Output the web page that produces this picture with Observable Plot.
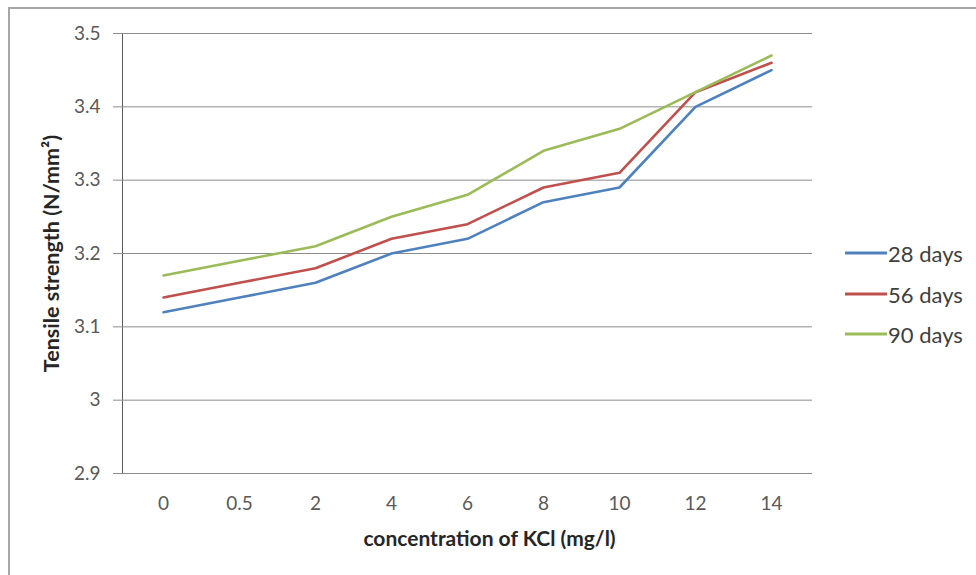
<!DOCTYPE html>
<html><head><meta charset="utf-8">
<script src="https://cdn.jsdelivr.net/npm/d3@7"></script>
<script src="https://cdn.jsdelivr.net/npm/@observablehq/plot@0.6"></script>
<style>
html,body{margin:0;padding:0;background:#fff;}
#wrap{position:relative;width:976px;height:575px;overflow:hidden;font-family:Lato,"Open Sans",sans-serif;background:#fff;}
#frame{position:absolute;left:8px;top:7px;width:1000px;height:600px;border-left:2px solid #a6a6a6;border-top:2px solid #a6a6a6;box-sizing:border-box;}
#chart{position:absolute;left:0;top:0;}
#chart svg g[aria-label="y-axis"] line,
#chart svg g[aria-label="y-axis"] path,
#chart svg g[aria-label="y-axis tick"],
#chart svg g[aria-label="y-axis line"]{stroke:#8c8c8c;}
#legend{position:absolute;left:845px;top:0;font-size:22px;color:#404040;}
.item{position:absolute;left:0;display:flex;align-items:center;white-space:nowrap;transform:translateY(-50%);}
.swatch{width:42px;height:3px;margin-right:1px;}
</style>
</head><body>
<div id="wrap"><div id="frame"></div><div id="chart"></div><div id="legend"></div></div>
<script>
const categories = ["0", "0.5", "2", "4", "6", "8", "10", "12", "14"];
const seriesNames = ["28 days", "56 days", "90 days"];
const days28 = [3.12, 3.14, 3.16, 3.20, 3.22, 3.27, 3.29, 3.40, 3.45];
const days56 = [3.14, 3.16, 3.18, 3.22, 3.24, 3.29, 3.31, 3.42, 3.46];
const days90 = [3.17, 3.19, 3.21, 3.25, 3.28, 3.34, 3.37, 3.42, 3.47];
const colors = ["#4F81BD", "#C0504D", "#9BBB59"];
const yTicks = [2.9, 3.0, 3.1, 3.2, 3.3, 3.4, 3.5];
const yTickLabels = ["2.9", "3", "3.1", "3.2", "3.3", "3.4", "3.5"];
const xTitle = "concentration of KCl (mg/l)";
const yTitle = "Tensile strength (N/mm²)";

const seriesValues = [days28, days56, days90];
const data = [];
seriesNames.forEach((s, si) => categories.forEach((c, ci) => data.push({series: s, cat: c, value: seriesValues[si][ci]})));

const chart = Plot.plot({
  width: 976,
  height: 575,
  marginLeft: 122,
  marginRight: 164,
  marginTop: 33,
  marginBottom: 102,
  style: {background: "transparent", color: "#595959", fontFamily: "Lato, 'Open Sans', sans-serif", fontSize: "19px", overflow: "visible"},
  x: {type: "point", domain: categories, padding: 0.5, tickSize: 0, tickPadding: 23, label: null},
  y: {domain: [2.9, 3.5], ticks: yTicks, tickSize: 9, tickPadding: 13, line: true,
      tickFormat: d => yTickLabels[yTicks.findIndex(t => Math.abs(t - d) < 1e-9)], label: null},
  color: {domain: seriesNames, range: colors},
  marks: [
    Plot.ruleY(yTicks, {stroke: "#8c8c8c", strokeWidth: 1}),
    Plot.line(data, {x: "cat", y: "value", z: "series", stroke: "series", strokeWidth: 2.6, curve: "linear"}),
    Plot.text([yTitle], {frameAnchor: "left", textAnchor: "middle", lineAnchor: "middle", rotate: -90, dx: -70, fontWeight: "bold", fontSize: 21.5, fill: "#262626"}),
    Plot.text([xTitle], {frameAnchor: "bottom", textAnchor: "middle", lineAnchor: "middle", dx: 22, dy: 66, fontWeight: "bold", fontSize: 21, fill: "#262626"})
  ]
});
document.getElementById("chart").appendChild(chart);

const legend = document.getElementById("legend");
const legendY = [253, 294, 334];
seriesNames.forEach((s, i) => {
  const item = document.createElement("div");
  item.className = "item";
  item.style.top = legendY[i] + "px";
  const sw = document.createElement("div");
  sw.className = "swatch";
  sw.style.background = colors[i];
  const t = document.createElement("span");
  t.textContent = s;
  item.appendChild(sw); item.appendChild(t);
  legend.appendChild(item);
});
</script>
</body></html>
